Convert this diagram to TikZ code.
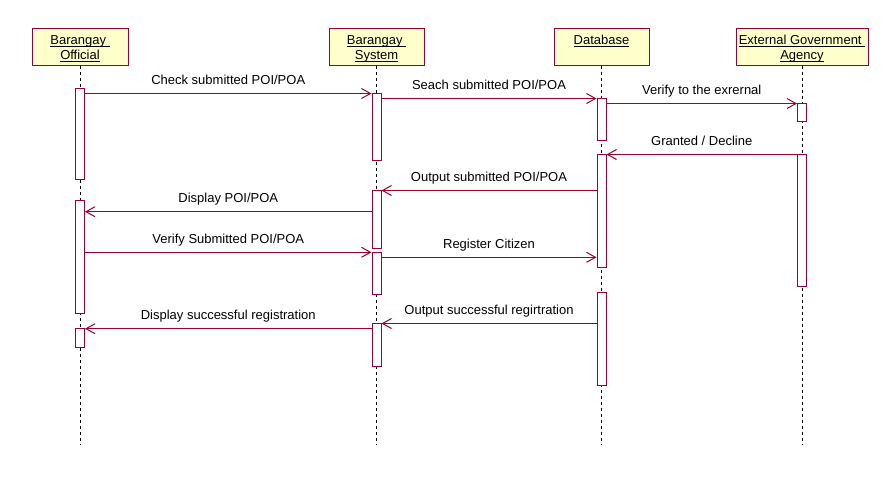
\documentclass[tikz,border=0pt]{standalone}
\usepackage{fontspec}
\setmainfont{Liberation Sans}
\usetikzlibrary{arrows.meta}
\definecolor{umlred}{RGB}{153,0,51}
\definecolor{umlfill}{RGB}{255,255,204}
\newsavebox\ulbox
\newcommand\ultext[1]{\sbox\ulbox{#1}\rlap{\rule[-2.2pt]{\wd\ulbox}{0.9pt}}\usebox\ulbox}
\begin{document}
\begin{tikzpicture}[x=1pt,y=-1pt,
  every node/.style={font=\fontsize{13}{15}\selectfont},
  hdr/.style={draw=umlred, fill=umlfill, line width=1pt, minimum height=37pt, inner sep=0pt},
  hdrtext/.style={anchor=base, inner sep=0pt},
  lifeline/.style={draw=black, line width=1pt, dash pattern=on 3pt off 3pt},
  actbar/.style={draw=umlred, fill=white, line width=1pt, minimum width=9pt, inner sep=0pt},
  msg/.style={draw=umlred, line width=1pt, -{Straight Barb[length=9pt,width=10pt]}},
  msglabel/.style={midway, anchor=base, yshift=9.3pt, inner sep=0pt}
]
\useasboundingbox (0,0) rectangle (889,491);
% headers
\node[hdr, minimum width=96pt] (bo) at (80,46.75) {};
\node[hdr, minimum width=95pt] (bs) at (376.5,46.75) {};
\node[hdr, minimum width=95pt] (db) at (601.5,46.75) {};
\node[hdr, minimum width=132pt] (eg) at (802,46.75) {};
\node[hdrtext] (bo1) at ([yshift=-17pt]bo.north) {\ultext{Barangay\ }};
\node[hdrtext] (bo2) at ([yshift=-32pt]bo.north) {\ultext{Official}};
\node[hdrtext] (bs1) at ([yshift=-17pt]bs.north) {\ultext{Barangay\ }};
\node[hdrtext] (bs2) at ([yshift=-32pt]bs.north) {\ultext{System}};
\node[hdrtext] (db1) at ([yshift=-17pt]db.north) {\ultext{Database}};
\node[hdrtext] (eg1) at ([yshift=-17pt]eg.north) {\ultext{External Government\ }};
\node[hdrtext] (eg2) at ([yshift=-32pt]eg.north) {\ultext{Agency}};
% lifelines
\coordinate (bottom) at (0,445);
\foreach \h in {bo,bs,db,eg}{
  \draw[lifeline] (\h.south) -- (\h.south |- bottom);
}
% activation bars
\node[actbar, minimum height=91pt]   (o1) at (80,133.5) {};
\node[actbar, minimum height=112.5pt](o2) at (80,256.75) {};
\node[actbar, minimum height=18.5pt] (o3) at (80,337.75) {};
\node[actbar, minimum height=67pt]   (s1) at (376.5,127) {};
\node[actbar, minimum height=58pt]   (s2) at (376.5,219.5) {};
\node[actbar, minimum height=42pt]   (s3) at (376.5,273.5) {};
\node[actbar, minimum height=42.5pt] (s4) at (376.5,344.75) {};
\node[actbar, minimum height=42pt]   (d1) at (601.5,119.5) {};
\node[actbar, minimum height=113pt]  (d2) at (601.5,211) {};
\node[actbar, minimum height=93pt]   (d3) at (601.5,339) {};
\node[actbar, minimum height=18pt]   (e1) at (802,112.5) {};
\node[actbar, minimum height=132pt]  (e2) at (802,220.5) {};
% message levels
\coordinate (y1) at (0,93.5);
\coordinate (y2) at (0,98.5);
\coordinate (y3) at (0,103.5);
\coordinate (y4) at (0,154.5);
\coordinate (y5) at (0,190.5);
\coordinate (y6) at (0,211.7);
\coordinate (y7) at (0,252.3);
\coordinate (y8) at (0,257.3);
\coordinate (y9) at (0,323.5);
\coordinate (y10) at (0,328.7);
% messages
\draw[msg] (o1.east |- y1) -- (s1.west |- y1) node[msglabel] {Check submitted POI/POA};
\draw[msg] (s1.east |- y2) -- (d1.west |- y2) node[msglabel] {Seach submitted POI/POA};
\draw[msg] (d1.east |- y3) -- (e1.west |- y3) node[msglabel] {Verify to the exrernal};
\draw[msg] (e2.west |- y4) -- (d2.east |- y4) node[msglabel] {Granted / Decline};
\draw[msg] (d2.west |- y5) -- (s2.east |- y5) node[msglabel] {Output submitted POI/POA};
\draw[msg] (s2.west |- y6) -- (o2.east |- y6) node[msglabel] {Display POI/POA};
\draw[msg] (o2.east |- y7) -- (s3.west |- y7) node[msglabel] {Verify Submitted POI/POA};
\draw[msg] (s3.east |- y8) -- (d2.west |- y8) node[msglabel] {Register Citizen};
\draw[msg] (d3.west |- y9) -- (s4.east |- y9) node[msglabel] {Output successful regirtration};
\draw[msg] (s4.west |- y10) -- (o3.east |- y10) node[msglabel] {Display successful registration};
\end{tikzpicture}
\end{document}
